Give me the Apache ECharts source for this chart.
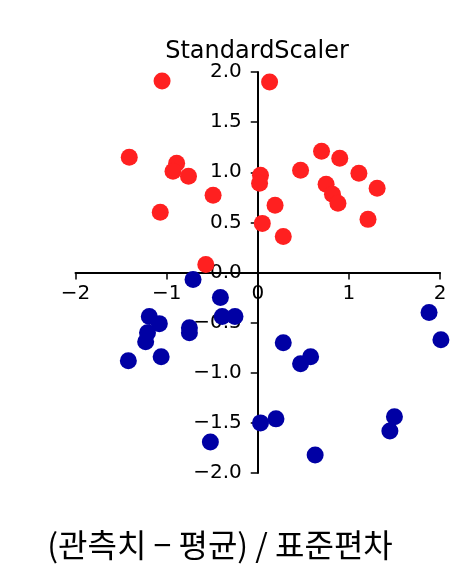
<!DOCTYPE html>
<html>
<head>
<meta charset="utf-8">
<script src="https://cdn.jsdelivr.net/npm/echarts@6/dist/echarts.min.js"></script>
<style>
  html, body { margin: 0; padding: 0; background: #fff; }
  #chart { width: 467px; height: 587px; }
</style>
</head>
<body>
<div id="chart"></div>
<script>
// 양성 클래스 (빨강) — 표준화된 좌표
const redX = [-1.05, 0.13, -1.41, -0.89, -0.93, -0.76, -0.49, -1.07, -0.57, 0.03, 0.02, 0.05, 0.19, 0.28, 0.47, 0.70, 0.90, 0.75, 0.82, 0.88, 1.11, 1.31, 1.21]
const redY = [1.91, 1.90, 1.15, 1.09, 1.01, 0.96, 0.77, 0.60, 0.08, 0.97, 0.89, 0.49, 0.67, 0.36, 1.02, 1.21, 1.14, 0.88, 0.78, 0.69, 0.99, 0.84, 0.53]

// 음성 클래스 (파랑)
const blueX = [-0.71, -0.41, -1.19, -1.08, -1.21, -1.23, -1.42, -1.06, -0.75, -0.75, -0.39, -0.25, -0.52, 0.03, 0.20, 0.28, 0.47, 0.58, 0.63, 1.45, 1.50, 1.88, 2.01]
const blueY = [-0.07, -0.25, -0.44, -0.51, -0.60, -0.69, -0.88, -0.84, -0.55, -0.60, -0.44, -0.44, -1.69, -1.50, -1.46, -0.70, -0.91, -0.84, -1.82, -1.58, -1.44, -0.40, -0.67]

const xTicks = [-2, -1, 0, 1, 2]
const yTicks = [-2.0, -1.5, -1.0, -0.5, 0.0, 0.5, 1.0, 1.5, 2.0]

const toPairs = (xs, ys) => xs.map((x, i) => [x, ys[i]])
const minus = (s) => s.replace('-', '\u2212')

// 축을 원점으로 옮기기 위한 격자 크기
const gridLeft = 75.5, gridRight = 27, gridTop = 72, gridBottom = 114
const W = 467, H = 587
const plotW = W - gridLeft - gridRight
const plotH = H - gridTop - gridBottom

const chart = echarts.init(document.getElementById('chart'))

const axisLine = { show: true, onZero: false, lineStyle: { color: '#000', width: 2 } }
const axisTick = { show: true, inside: false, length: 7, lineStyle: { color: '#000', width: 1.5 } }

const option = {
  animation: false,
  backgroundColor: '#fff',
  title: [
    {
      text: 'StandardScaler',
      left: 257,
      top: 40,
      textAlign: 'center',
      padding: 0,
      textStyle: { fontFamily: 'DejaVu Sans', fontSize: 24, fontWeight: 'normal', color: '#000' }
    },
    {
      text: '(관측치 \u2212 평균) / 표준편차',
      left: 220,
      top: 529,
      textAlign: 'center',
      padding: 0,
      textStyle: { fontFamily: 'Noto Sans CJK KR', fontSize: 32, fontWeight: 'normal', color: '#000' }
    }
  ],
  grid: { left: gridLeft, right: gridRight, top: gridTop, bottom: gridBottom, containLabel: false },
  xAxis: {
    type: 'value',
    position: 'bottom',
    offset: -plotH / 2,
    min: xTicks[0],
    max: xTicks[xTicks.length - 1],
    interval: 1,
    axisLine,
    axisTick,
    splitLine: { show: false },
    axisLabel: {
      margin: 11,
      fontFamily: 'DejaVu Sans',
      fontSize: 20,
      color: '#000',
      formatter: (v) => xTicks.includes(v) ? minus(String(v)) : ''
    }
  },
  yAxis: {
    type: 'value',
    position: 'left',
    offset: -plotW / 2,
    min: yTicks[0],
    max: yTicks[yTicks.length - 1],
    interval: 0.5,
    axisLine,
    axisTick,
    splitLine: { show: false },
    axisLabel: {
      margin: 16,
      fontFamily: 'DejaVu Sans',
      fontSize: 20,
      color: '#000',
      formatter: (v) => minus(v.toFixed(1))
    }
  },
  series: [
    {
      type: 'scatter',
      data: toPairs(redX, redY),
      symbolSize: 17,
      clip: false,
      itemStyle: { color: '#ff2020', opacity: 1 }
    },
    {
      type: 'scatter',
      data: toPairs(blueX, blueY),
      symbolSize: 17,
      clip: false,
      itemStyle: { color: '#0000a4', opacity: 1 }
    }
  ]
}

chart.setOption(option)
</script>
</body>
</html>
